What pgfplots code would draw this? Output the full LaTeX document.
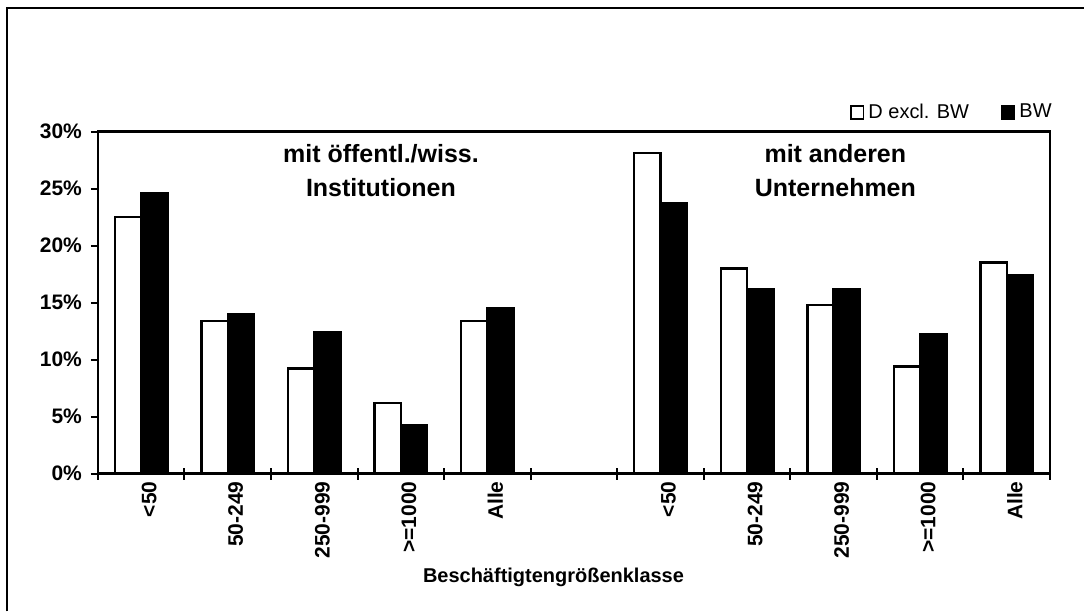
\documentclass[border=0pt]{standalone}
\usepackage{fontspec}
\setmainfont{Liberation Sans}
\usepackage{pgfplots}
\usepackage{pgfplotstable}
\pgfplotsset{compat=1.18}

% Anteil der Unternehmen mit FuE-Kooperationen (%)
\pgfplotstableread{
x  dexbw  bw
0  22.5   24.6
1  13.4   14.0
2   9.2   12.4
3   6.2    4.2
4  13.4   14.5
6  28.1   23.7
7  18.0   16.2
8  14.8   16.2
9   9.4   12.2
10 18.5   17.4
}\kooptab

\begin{document}
\begin{tikzpicture}
\begin{axis}[
    scale only axis,
    width=476.5pt, height=171.15pt,
    ybar=0pt, bar width=13.15pt,
    xmin=-0.5, xmax=10.5,
    ymin=0, ymax=30,
    xtick={0,1,2,3,4,6,7,8,9,10},
    xticklabels={{<50},{50-249},{250-999},{>=1000},{Alle},{<50},{50-249},{250-999},{>=1000},{Alle}},
    minor xtick={-0.5,0.5,...,10.5},
    xtick pos=bottom, ytick pos=left,
    ytick={0,5,...,30},
    yticklabel={\pgfmathprintnumber{\tick}\%},
    /pgf/number format/assume math mode=true,
    major x tick style={draw=none},
    minor tick length=6pt,
    major tick length=3.5pt,
    xtick align=center,
    ytick align=outside,
    tick style={line width=1pt, black},
    axis line style={line width=1.1pt},
    x tick label style={font=\fontsize{10.5}{12}\selectfont\bfseries, rotate=90, anchor=east, inner sep=2pt, yshift=-4pt},
    y tick label style={font=\fontsize{10.5}{12}\selectfont\bfseries, xshift=-1pt},
    xlabel={Beschäftigtengrößenklasse},
    xlabel style={font=\fontsize{10}{12}\selectfont\bfseries, at={(axis description cs:0.4785,0)}, anchor=center, yshift=-52pt},
    legend columns=2,
    legend style={draw=none, fill=none, at={(1,1)}, anchor=south east,
        font=\fontsize{10}{12}\selectfont, yshift=1pt, xshift=6pt,
        /tikz/every even column/.append style={column sep=14pt}},
    legend image code/.code={\draw[#1, line width=0.8pt] (0pt,-3.2pt) rectangle (6.4pt,3.2pt);},
    clip=false,
]
\addplot[fill=white, draw=black, line width=1.2pt] table[x=x, y=dexbw] {\kooptab};
\addplot[fill=black, draw=black, line width=1.2pt] table[x=x, y=bw] {\kooptab};
\legend{D excl. BW, BW}
\node[font=\fontsize{12.5}{17}\selectfont\bfseries, align=center] at (axis cs:2.77,26.55) {mit öffentl./wiss.\\Institutionen};
\node[font=\fontsize{12.5}{17}\selectfont\bfseries, align=center] at (axis cs:8.02,26.6) {mit anderen\\Unternehmen};
\end{axis}
\draw[line width=1pt] (-45.5pt,-69pt) -- (-45.5pt,233pt) -- (493.5pt,233pt);
\path[use as bounding box] (-49pt,-69pt) rectangle (493.5pt,237pt);
\end{tikzpicture}
\end{document}
